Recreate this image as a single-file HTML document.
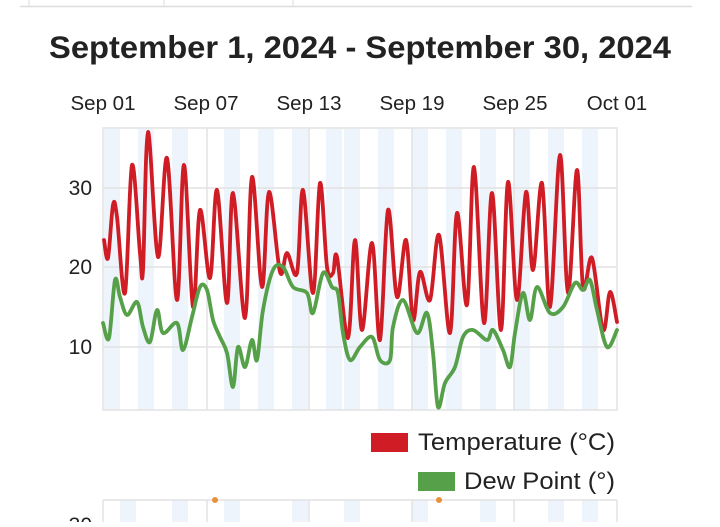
<!DOCTYPE html>
<html><head><meta charset="utf-8"><style>
body{margin:0;background:#fff;width:720px;height:522px;overflow:hidden;font-family:"Liberation Sans",sans-serif}
</style></head><body>
<svg width="720" height="522" xmlns="http://www.w3.org/2000/svg" font-family="Liberation Sans, sans-serif">
<line x1="20" y1="6.5" x2="692" y2="6.5" stroke="#ddd" stroke-width="1.5"/>
<line x1="29" y1="0" x2="29" y2="6" stroke="#ddd"/>
<line x1="164" y1="0" x2="164" y2="6" stroke="#ddd"/>
<line x1="293" y1="0" x2="293" y2="6" stroke="#ddd"/>
<text x="360" y="58" text-anchor="middle" font-size="31.5" font-weight="bold" fill="#222" textLength="622" lengthAdjust="spacingAndGlyphs">September 1, 2024 - September 30, 2024</text>
<g font-size="20.5" fill="#222" text-anchor="middle">
<text x="103" y="110">Sep 01</text><text x="206" y="110">Sep 07</text><text x="309" y="110">Sep 13</text>
<text x="412" y="110">Sep 19</text><text x="515" y="110">Sep 25</text><text x="617" y="110">Oct 01</text>
</g>
<g fill="#eef4fb">
<rect x="104" y="129" width="16" height="281"/><rect x="138" y="129" width="16" height="281"/><rect x="172" y="129" width="16" height="281"/><rect x="224" y="129" width="16" height="281"/><rect x="258" y="129" width="16" height="281"/><rect x="292" y="129" width="16" height="281"/><rect x="326" y="129" width="16" height="281"/><rect x="344" y="129" width="16" height="281"/><rect x="378" y="129" width="16" height="281"/><rect x="412" y="129" width="16" height="281"/><rect x="446" y="129" width="16" height="281"/><rect x="480" y="129" width="16" height="281"/><rect x="514" y="129" width="16" height="281"/><rect x="548" y="129" width="16" height="281"/><rect x="582" y="129" width="16" height="281"/>
</g>
<g stroke="#e2e2e2" stroke-width="1.5" fill="none">
<rect x="103" y="128" width="514" height="282"/>
<line x1="103" y1="188" x2="617" y2="188"/><line x1="103" y1="267" x2="617" y2="267"/><line x1="103" y1="347" x2="617" y2="347"/>
<line x1="207" y1="128" x2="207" y2="410"/><line x1="309" y1="128" x2="309" y2="410"/><line x1="412" y1="128" x2="412" y2="410"/><line x1="514" y1="128" x2="514" y2="410"/>
</g>
<g font-size="21" fill="#222" text-anchor="end">
<text x="92" y="195">30</text><text x="92" y="274">20</text><text x="92" y="354">10</text>
</g>
<polyline id="t" fill="none" stroke="#d01c24" stroke-width="3.8" stroke-linejoin="round" stroke-linecap="round" points="104,240 108,258 113,205 117,217 125,293 132,165 140,253 143,270 148,132 158,257 167,158 177,300 184,165 193,307 200,210 210,278 217,190 227,303 233,193 245,318 252,177 262,287 269,192 280,272 287,253 297,273 303,190 313,293 320,183 327,267 333,273 337,257 348,338 355,240 362,330 372,243 380,340 388,210 397,297 406,240 413,320 420,272 430,300 439,235 450,333 457,213 467,305 474,167 484,323 492,193 501,330 508,182 517,300 526,192 533,270 542,183 550,307 560,155 568,293 577,170 583,287 592,258 603,330 610,292 617,322"/>
<polyline id="d" fill="none" stroke="#56a04a" stroke-width="3.8" stroke-linejoin="round" stroke-linecap="round" points="103,323 109,338 115,280 120,297 127,315 137,302 143,327 150,342 157,310 163,333 177,323 183,350 192,317 200,287 207,290 213,320 220,337 227,353 233,387 238,347 245,367 252,340 257,360 263,310 273,270 283,267 293,287 307,293 313,313 323,273 332,287 338,293 343,333 350,360 360,347 372,337 380,360 390,360 393,327 403,300 417,333 427,313 433,353 438,407 445,383 455,367 463,337 473,330 487,340 493,330 503,350 510,367 515,333 523,293 530,320 537,287 550,313 563,307 575,283 583,290 590,280 597,310 607,347 617,330"/>
<rect x="371" y="433" width="37" height="19" fill="#d01c24"/>
<text x="418" y="450" font-size="24.5" fill="#222" textLength="197" lengthAdjust="spacingAndGlyphs">Temperature (°C)</text>
<rect x="418" y="472" width="37" height="19" fill="#56a04a"/>
<text x="464" y="489" font-size="24.5" fill="#222" textLength="151" lengthAdjust="spacingAndGlyphs">Dew Point (°)</text>
<g fill="#eef4fb"><rect x="120" y="500" width="16" height="22"/><rect x="172" y="500" width="16" height="22"/><rect x="224" y="500" width="16" height="22"/><rect x="292" y="500" width="16" height="22"/><rect x="344" y="500" width="16" height="22"/><rect x="412" y="500" width="16" height="22"/><rect x="480" y="500" width="16" height="22"/><rect x="548" y="500" width="16" height="22"/><rect x="582" y="500" width="16" height="22"/></g>
<g stroke="#e2e2e2" stroke-width="1.5" fill="none"><line x1="103" y1="500" x2="617" y2="500"/><line x1="103" y1="500" x2="103" y2="522"/><line x1="617" y1="500" x2="617" y2="522"/><line x1="207" y1="500" x2="207" y2="522"/><line x1="309" y1="500" x2="309" y2="522"/><line x1="412" y1="500" x2="412" y2="522"/><line x1="514" y1="500" x2="514" y2="522"/></g>
<circle cx="215" cy="500" r="3" fill="#e8913a"/><circle cx="439" cy="500" r="3" fill="#e8913a"/>
<text x="92" y="532" font-size="21" fill="#222" text-anchor="end">30</text>
</svg>
<script>
["t","d"].forEach(function(id){
 var el=document.getElementById(id);
 var p=el.getAttribute("points").trim().split(/\s+/).map(function(s){return s.split(",").map(Number)});
 var d="M"+p[0][0]+","+p[0][1];
 for(var i=0;i<p.length-1;i++){
  var p0=p[i-1]||p[i],p1=p[i],p2=p[i+1],p3=p[i+2]||p2;
  var c1x=p1[0]+(p2[0]-p0[0])/6,c1y=p1[1]+(p2[1]-p0[1])/6;
  var c2x=p2[0]-(p3[0]-p1[0])/6,c2y=p2[1]-(p3[1]-p1[1])/6;
  d+=" C"+c1x+","+c1y+" "+c2x+","+c2y+" "+p2[0]+","+p2[1];
 }
 var path=document.createElementNS("http://www.w3.org/2000/svg","path");
 path.setAttribute("d",d);
 ["fill","stroke","stroke-width","stroke-linejoin","stroke-linecap"].forEach(function(a){path.setAttribute(a,el.getAttribute(a))});
 el.parentNode.replaceChild(path,el);
});
</script>
</body></html>
